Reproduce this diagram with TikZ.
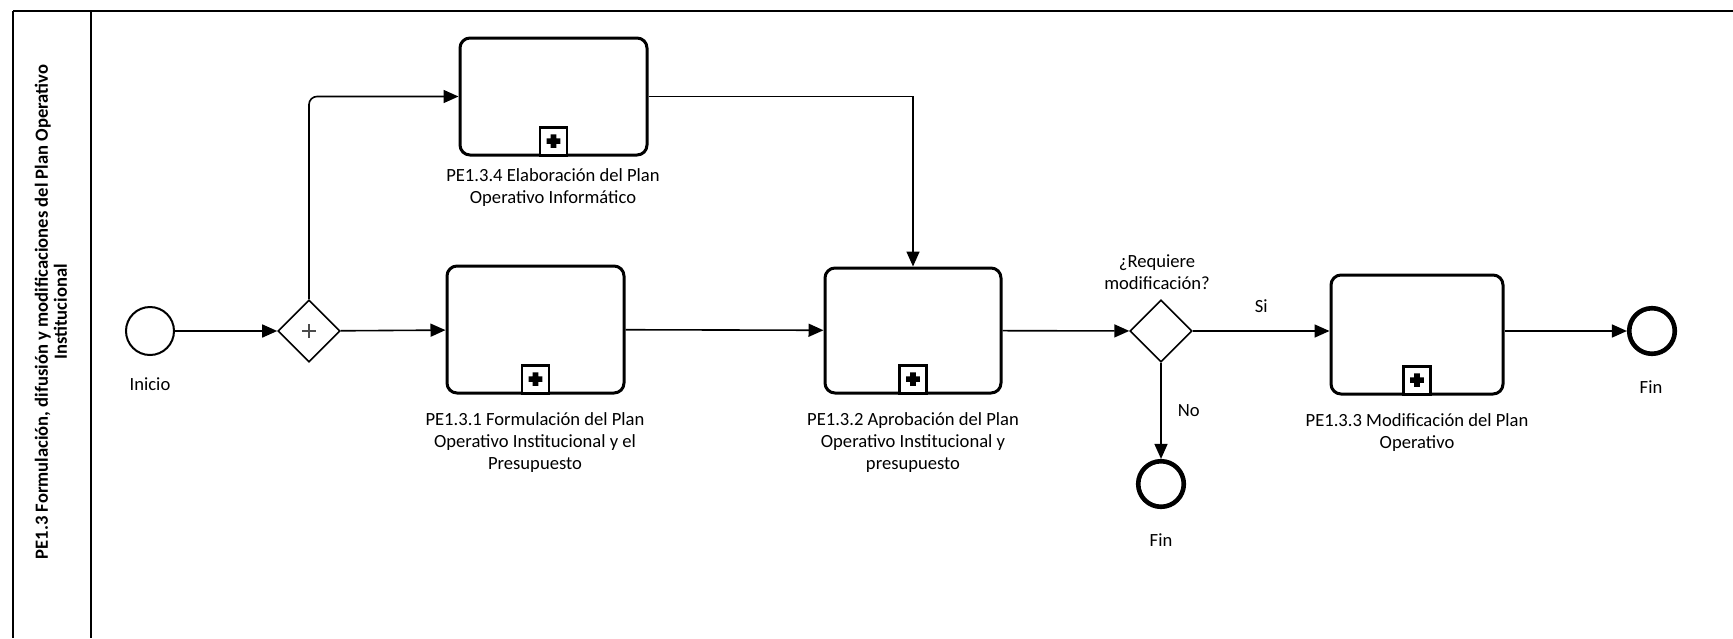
\documentclass[tikz,border=0pt]{standalone}
\usepackage{fontspec}
\setmainfont{Carlito}
\usetikzlibrary{arrows.meta,shapes.geometric}

\begin{document}
\begin{tikzpicture}[x=0.5pt, y=-0.5pt,
    every node/.style={font=\fontsize{9.3}{11}\selectfont},
    box/.style={rectangle, draw, rounded corners=5pt, line width=1.5pt},
    gate/.style={diamond, draw, line width=0.8pt, minimum size=31pt, inner sep=0pt},
    startev/.style={circle, draw, line width=1pt, minimum size=24pt, inner sep=0pt},
    endev/.style={circle, draw, line width=2.3pt, minimum size=22.8pt, inner sep=0pt},
    lbl/.style={align=center, inner sep=0pt},
    arrow/.style={-{Triangle[length=7.5pt,width=6.5pt]}, line width=0.8pt},
    markbox/.style={draw, line width=1.4pt, minimum width=13.5pt, minimum height=14pt,
        inner sep=0pt, anchor=south, fill=white,
        path picture={\fill[black] ([xshift=-3.4pt,yshift=-1.4pt]path picture bounding box.center)
            rectangle ([xshift=3.4pt,yshift=1.4pt]path picture bounding box.center)
            ([xshift=-1.4pt,yshift=-3.4pt]path picture bounding box.center)
            rectangle ([xshift=1.4pt,yshift=3.4pt]path picture bounding box.center);}}
]
\useasboundingbox (0,0) rectangle (1733,638);

% Lane
\draw[line width=1pt] (13,11) -- (1733,11);
\draw[line width=1pt] (13,11) -- (13,638);
\draw[line width=1pt] (91,11) -- (91,638);
\node[lbl, rotate=90, font=\bfseries\fontsize{9.3}{9.5}\selectfont] (lanetitle) at (51,312)
    {PE1.3 Formulación, difusión y modificaciones del Plan Operativo\\Institucional};

% Events and gateways
\node[startev] (start) at (150,331) {};
\node[lbl] (start-lbl) at (150,384) {Inicio};
\node[gate, path picture={\draw[line width=0.7pt, black!70]
    ([yshift=-3.5pt]path picture bounding box.center) -- ([yshift=3.5pt]path picture bounding box.center)
    ([xshift=-3.5pt]path picture bounding box.center) -- ([xshift=3.5pt]path picture bounding box.center);}]
    (gwsplit) at (309,331) {};
\node[gate] (gwmod) at (1161,331) {};
\node[lbl] (gwmod-lbl) at (1157,272) {¿Requiere\\modificación?};
\node[endev] (finno) at (1161,484) {};
\node[lbl] (finno-lbl) at (1161,540) {Fin};
\node[endev] (finend) at (1652,331) {};
\node[lbl] (finend-lbl) at (1651,387) {Fin};

% Subprocesses
\node[box, minimum width=93.5pt, minimum height=58.5pt] (pinf) at (553.5,96.5) {};
\node[markbox] (pinf-m) at (pinf.south) {};
\node[lbl] (pinf-lbl) at (553,188) {PE1.3.4 Elaboración del Plan\\Operativo Informático};

\node[box, minimum width=88.5pt, minimum height=63.5pt] (pform) at (535.5,329.5) {};
\node[markbox] (pform-m) at (pform.south) {};
\node[lbl] (pform-lbl) at (535,443) {PE1.3.1 Formulación del Plan\\Operativo Institucional y el\\Presupuesto};

\node[box, minimum width=88pt, minimum height=62.5pt] (paprob) at (913,330.5) {};
\node[markbox] (paprob-m) at (paprob.south) {};
\node[lbl] (paprob-lbl) at (913,443) {PE1.3.2 Aprobación del Plan\\Operativo Institucional y\\presupuesto};

\node[box, minimum width=86pt, minimum height=59.5pt] (pmod) at (1417,334.5) {};
\node[markbox] (pmod-m) at (pmod.south) {};
\node[lbl] (pmod-lbl) at (1417,433) {PE1.3.3 Modificación del Plan\\Operativo};

% Flows
\draw[arrow] (start) -- (gwsplit);
\draw[arrow, rounded corners=4pt] (gwsplit.north) |- (pinf.west);
\draw[arrow] (gwsplit) -- (pform);
\draw[arrow] (pinf.east) -| (paprob.north);
\draw[arrow] (pform) -- (paprob);
\draw[arrow] (paprob) -- (gwmod);
\draw[arrow] (gwmod) -- node[lbl, above=9pt] (si-lbl) {Si} (pmod.west |- gwmod);
\draw[arrow] (pmod.east |- finend) -- (finend);
\draw[arrow] (gwmod) -- node[lbl, right=8pt] (no-lbl) {No} (finno);
\end{tikzpicture}
\end{document}
